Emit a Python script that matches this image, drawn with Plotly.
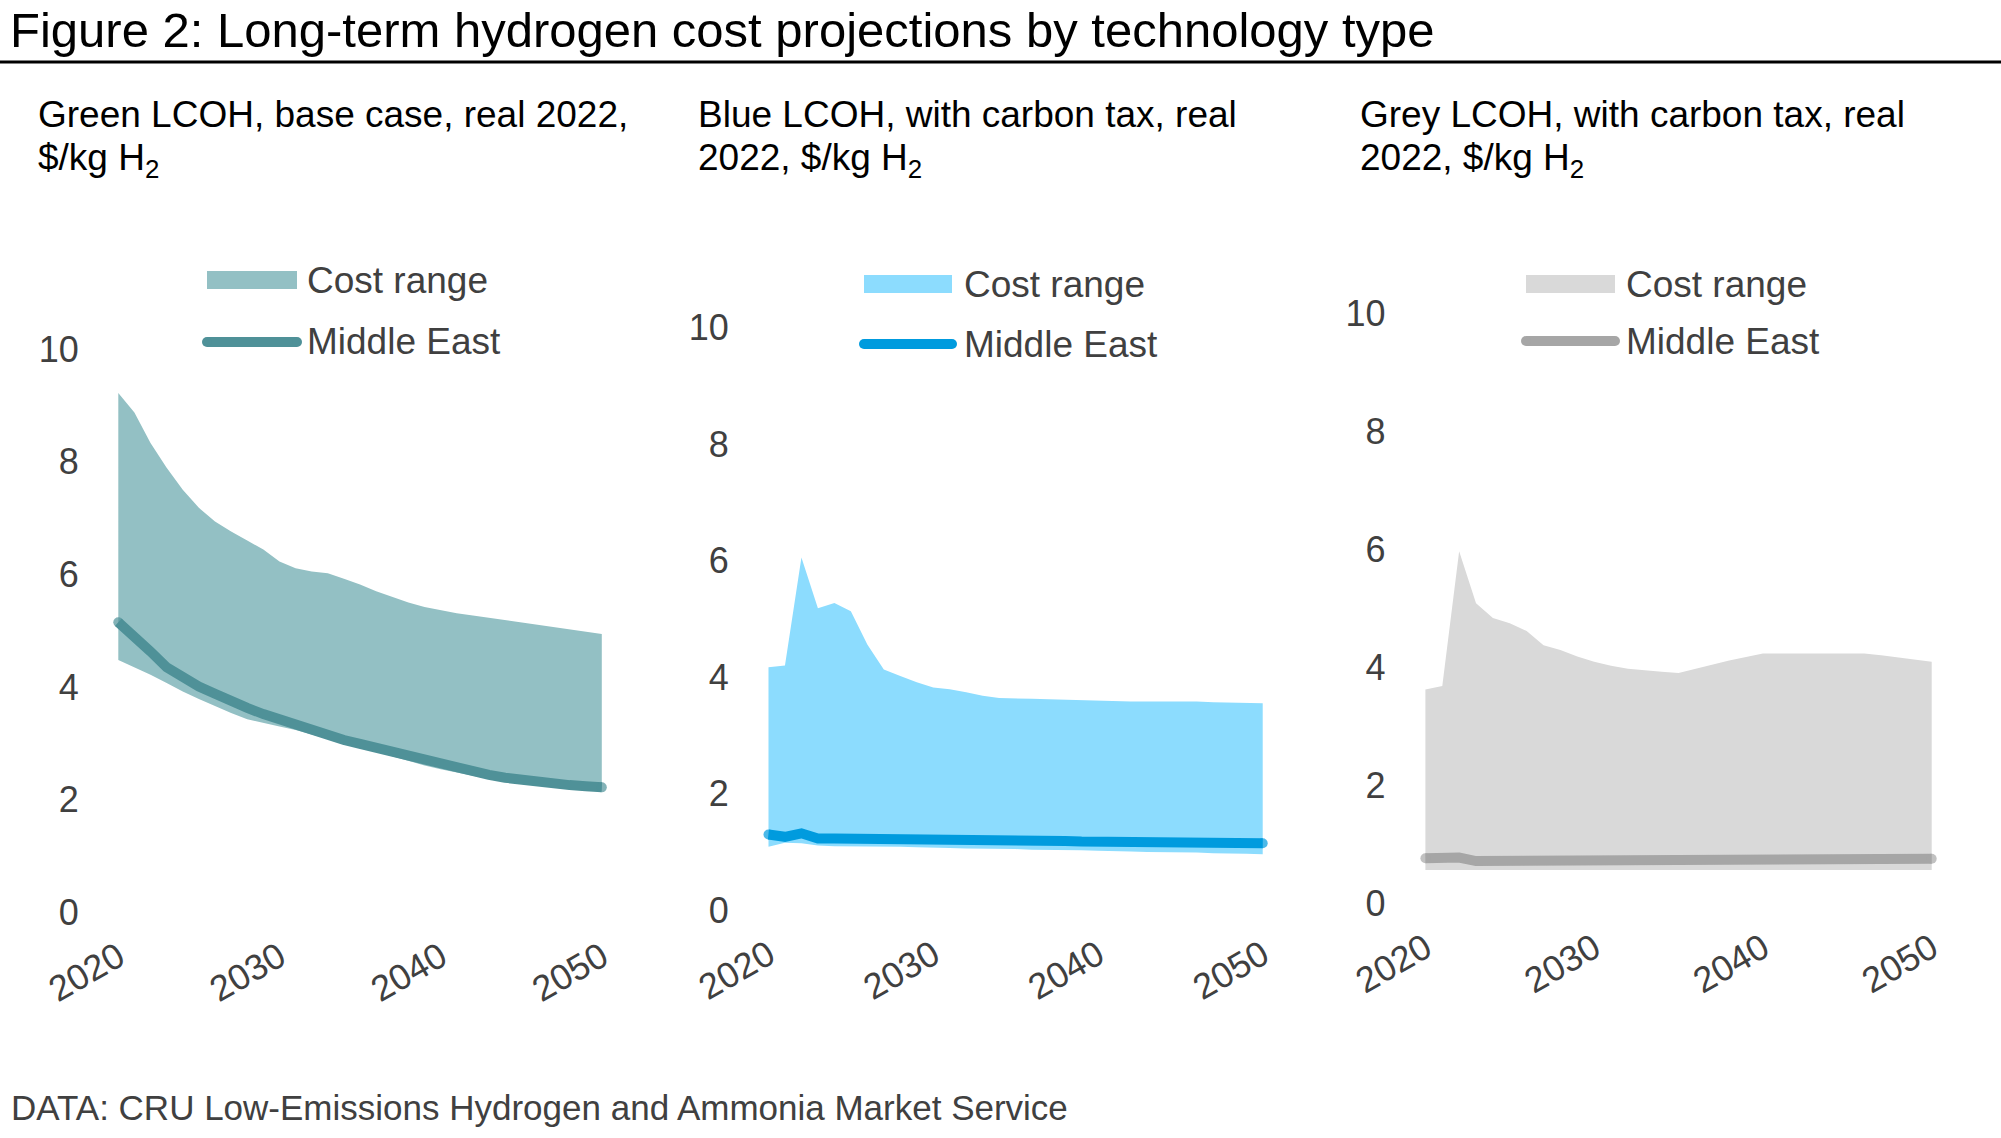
import plotly.graph_objects as go

# ---------------- data ----------------
years = list(range(2020, 2051))

green_upper = [9.22, 8.87, 8.33, 7.89, 7.50, 7.18, 6.94, 6.76, 6.60, 6.44, 6.23,
               6.11, 6.05, 6.02, 5.92, 5.82, 5.70, 5.60, 5.50, 5.42, 5.36,
               5.31, 5.27, 5.23, 5.18, 5.14, 5.10, 5.06, 5.02, 4.98, 4.94]
green_lower = [4.48, 4.35, 4.22, 4.07, 3.92, 3.79, 3.66, 3.54, 3.43, 3.36, 3.30,
               3.24, 3.16, 3.07, 2.99, 2.92, 2.85, 2.77, 2.68, 2.61, 2.54,
               2.48, 2.42, 2.37, 2.32, 2.28, 2.25, 2.22, 2.19, 2.17, 2.15]
green_me = [5.15, 4.91, 4.63, 4.35, 4.16, 4.01, 3.88, 3.74, 3.63, 3.52, 3.42,
            3.32, 3.23, 3.14, 3.06, 2.99, 2.92, 2.84, 2.75, 2.68, 2.61,
            2.55, 2.49, 2.44, 2.39, 2.35, 2.32, 2.29, 2.26, 2.24, 2.22]

blue_upper = [4.17, 4.20, 6.05, 5.18, 5.27, 5.13, 4.56, 4.13, 4.02, 3.91, 3.82,
              3.79, 3.74, 3.68, 3.64, 3.64, 3.63, 3.62, 3.61, 3.61, 3.60,
              3.59, 3.58, 3.58, 3.58, 3.59, 3.58, 3.57, 3.56, 3.56, 3.55]
blue_lower = [1.09, 1.16, 1.15, 1.11, 1.10, 1.10, 1.10, 1.09, 1.09, 1.08, 1.08,
              1.07, 1.06, 1.06, 1.05, 1.05, 1.04, 1.04, 1.03, 1.03, 1.02,
              1.02, 1.01, 1.00, 1.00, 0.99, 0.99, 0.98, 0.98, 0.97, 0.96]
blue_me = [1.30, 1.26, 1.32, 1.23, 1.23, 1.23, 1.22, 1.22, 1.22, 1.21, 1.21,
           1.21, 1.20, 1.20, 1.20, 1.19, 1.19, 1.19, 1.19, 1.18, 1.18,
           1.18, 1.18, 1.17, 1.17, 1.17, 1.16, 1.16, 1.16, 1.15, 1.15]

grey_upper = [3.63, 3.69, 5.97, 5.09, 4.84, 4.75, 4.62, 4.38, 4.30, 4.19, 4.10,
              4.03, 3.98, 3.95, 3.93, 3.91, 3.98, 4.06, 4.12, 4.18, 4.24,
              4.24, 4.24, 4.24, 4.24, 4.24, 4.24, 4.21, 4.17, 4.13, 4.10]
grey_lower = [0.57, 0.57, 0.57, 0.57, 0.57, 0.57, 0.57, 0.57, 0.57, 0.57, 0.56,
              0.56, 0.56, 0.57, 0.57, 0.57, 0.57, 0.57, 0.57, 0.57, 0.57,
              0.57, 0.57, 0.57, 0.57, 0.57, 0.57, 0.57, 0.57, 0.57, 0.57]
grey_me = [0.77, 0.76, 0.78, 0.72, 0.72, 0.72, 0.72, 0.72, 0.72, 0.72, 0.72,
           0.72, 0.72, 0.73, 0.73, 0.73, 0.73, 0.73, 0.73, 0.74, 0.74,
           0.74, 0.74, 0.74, 0.75, 0.75, 0.75, 0.75, 0.75, 0.76, 0.76]

x_ticks = [2020, 2030, 2040, 2050]
y_ticks = [0, 2, 4, 6, 8, 10]

title_text = "Figure 2: Long-term hydrogen cost projections by technology type"
subtitles = [("Green LCOH, base case, real 2022,", "$/kg H<sub>2</sub>"),
             ("Blue LCOH, with carbon tax, real", "2022, $/kg H<sub>2</sub>"),
             ("Grey LCOH, with carbon tax, real", "2022, $/kg H<sub>2</sub>")]
source_text = "DATA: CRU Low-Emissions Hydrogen and Ammonia Market Service"
legend_names = ["Cost range", "Middle East"]

# ---------------- styling / layout ----------------
W, H = 2001, 1138
FONT = "Liberation Sans, Arial, sans-serif"
TXT_GREY = "#404040"


def fx(p):
    return p / W


def fy(p):
    return 1 - p / H


panels = [
    dict(upper=green_upper, lower=green_lower, me=green_me,
         fill="#93C0C4", lc="#4F9198",
         xdom=(111.85, 608.25), ydom=(343.3, 918.1),
         sub_x=36, leg=dict(rx0=207, rx1=297, ry=280, ly=342, tx=305)),
    dict(upper=blue_upper, lower=blue_lower, me=blue_me,
         fill="#8CDCFE", lc="#009BDE",
         xdom=(761.9, 1269.3), ydom=(321.5, 916.1),
         sub_x=696, leg=dict(rx0=864, rx1=952, ry=284, ly=344, tx=962)),
    dict(upper=grey_upper, lower=grey_lower, me=grey_me,
         fill="#D9D9D9", lc="#A6A6A6",
         xdom=(1418.65, 1938.45), ydom=(307.7, 909.5),
         sub_x=1358, leg=dict(rx0=1526, rx1=1615, ry=284, ly=341, tx=1624)),
]

fig = go.Figure()
shapes = []
annotations = []

for i, p in enumerate(panels):
    n = "" if i == 0 else str(i + 1)
    xa, ya = "x" + n, "y" + n
    fig.add_trace(go.Scatter(x=years, y=p["lower"], mode="lines",
                             line=dict(width=0, color=p["fill"]),
                             xaxis=xa, yaxis=ya, showlegend=False,
                             hoverinfo="skip"))
    fig.add_trace(go.Scatter(x=years, y=p["upper"], mode="lines",
                             line=dict(width=0, color=p["fill"]),
                             fill="tonexty", fillcolor=p["fill"],
                             xaxis=xa, yaxis=ya, showlegend=False,
                             name=legend_names[0]))
    sizes = [10] + [0] * (len(years) - 2) + [10]
    fig.add_trace(go.Scatter(x=years, y=p["me"], mode="lines+markers",
                             line=dict(width=10, color=p["lc"]),
                             marker=dict(size=sizes, color=p["lc"],
                                         line=dict(width=0)),
                             xaxis=xa, yaxis=ya, showlegend=False,
                             name=legend_names[1]))

    fig.update_layout(**{
        "xaxis" + n: dict(domain=[fx(p["xdom"][0]), fx(p["xdom"][1])],
                          range=[2019.6, 2050.4], anchor=ya,
                          tickmode="array", tickvals=x_ticks,
                          tickangle=-30, ticks="", showgrid=False,
                          zeroline=False, showline=False, automargin=False,
                          ticklabelstandoff=10,
                          tickfont=dict(size=36, color=TXT_GREY, family=FONT),
                          fixedrange=True),
        "yaxis" + n: dict(domain=[fy(p["ydom"][1]), fy(p["ydom"][0])],
                          range=[-0.1, 10.1], anchor=xa,
                          tickmode="array", tickvals=y_ticks,
                          ticks="", showgrid=False, zeroline=False,
                          showline=False, ticklabelstandoff=32,
                          automargin=False,
                          tickfont=dict(size=36, color=TXT_GREY, family=FONT),
                          fixedrange=True),
    })

    # subtitles
    annotations.append(dict(text=subtitles[i][0], x=fx(p["sub_x"]), y=fy(114),
                            xref="paper", yref="paper", xanchor="left",
                            yanchor="middle", showarrow=False,
                            font=dict(size=37, color="#000000", family=FONT)))
    annotations.append(dict(text=subtitles[i][1], x=fx(p["sub_x"]), y=fy(160),
                            xref="paper", yref="paper", xanchor="left",
                            yanchor="middle", showarrow=False,
                            font=dict(size=37, color="#000000", family=FONT)))

    # legend (manual)
    lg = p["leg"]
    shapes.append(dict(type="rect", xref="paper", yref="paper",
                       x0=fx(lg["rx0"]), x1=fx(lg["rx1"]),
                       y0=fy(lg["ry"] + 9), y1=fy(lg["ry"] - 9),
                       fillcolor=p["fill"], line=dict(width=0)))
    shapes.append(dict(type="line", xref="paper", yref="paper",
                       x0=fx(lg["rx0"]), x1=fx(lg["rx1"]),
                       y0=fy(lg["ly"]), y1=fy(lg["ly"]),
                       line=dict(width=10, color=p["lc"])))
    for cx in (lg["rx0"], lg["rx1"]):
        shapes.append(dict(type="circle", xref="paper", yref="paper",
                           x0=fx(cx - 5), x1=fx(cx + 5),
                           y0=fy(lg["ly"] + 5), y1=fy(lg["ly"] - 5),
                           fillcolor=p["lc"], line=dict(width=0)))
    for txt, yy in ((legend_names[0], lg["ry"]), (legend_names[1], lg["ly"])):
        annotations.append(dict(text=txt, x=fx(lg["tx"]), y=fy(yy),
                                xref="paper", yref="paper", xanchor="left",
                                yanchor="middle", showarrow=False,
                                font=dict(size=37, color=TXT_GREY, family=FONT)))

# title, rule, source
annotations.append(dict(text=title_text, x=fx(8), y=fy(30), xref="paper",
                        yref="paper", xanchor="left", yanchor="middle",
                        showarrow=False,
                        font=dict(size=49, color="#000000", family=FONT)))
annotations.append(dict(text=source_text, x=fx(9), y=fy(1107), xref="paper",
                        yref="paper", xanchor="left", yanchor="middle",
                        showarrow=False,
                        font=dict(size=35, color=TXT_GREY, family=FONT)))
shapes.append(dict(type="line", xref="paper", yref="paper",
                   x0=0, x1=1, y0=fy(62), y1=fy(62),
                   line=dict(width=3, color="#000000")))

fig.update_layout(template="none", width=W, height=H,
                  margin=dict(l=0, r=0, t=0, b=0, pad=0, autoexpand=False),
                  paper_bgcolor="white", plot_bgcolor="white",
                  font=dict(family=FONT, color=TXT_GREY),
                  shapes=shapes, annotations=annotations,
                  showlegend=False, hovermode=False)

fig.write_html("out.html", config={"displayModeBar": False},
               post_script="document.body.style.margin='0px';"
                           "document.body.style.overflow='hidden';")
